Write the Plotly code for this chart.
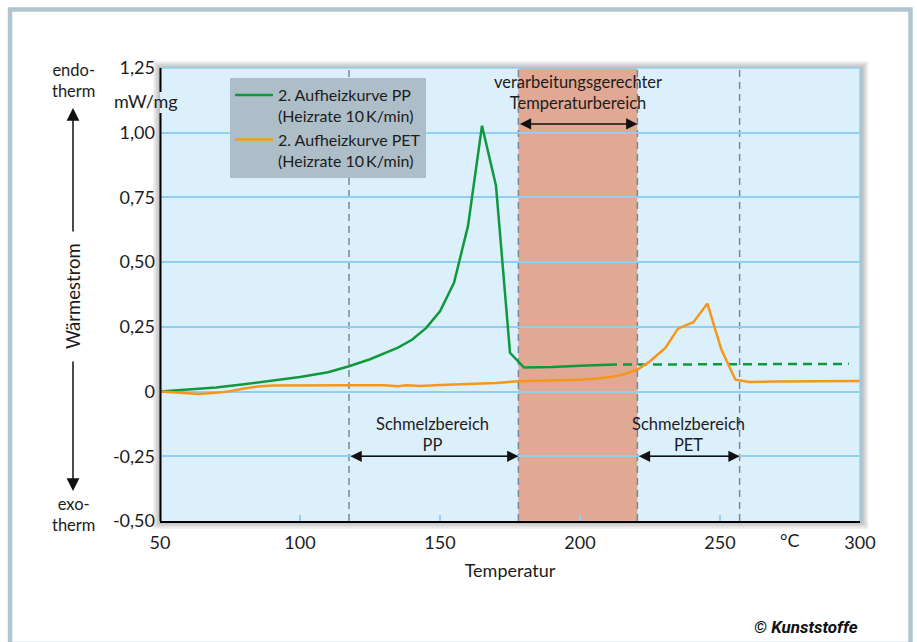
import plotly.graph_objects as go

# ---------------- data ----------------
pp_temp = [50, 60, 70, 80, 90, 100, 110, 117.5, 125, 130, 135, 140, 145, 150, 155, 160, 165, 170, 175, 180, 190, 200, 210]
pp_val = [0.0, 0.008, 0.016, 0.028, 0.042, 0.056, 0.075, 0.098, 0.125, 0.148, 0.17, 0.2, 0.245, 0.31, 0.42, 0.64, 1.027, 0.795, 0.15, 0.093, 0.095, 0.1, 0.104]
pp_ext_temp = [210, 296]
pp_ext_val = [0.104, 0.107]
pet_temp = [50, 57, 64, 70, 75, 80, 85, 90, 100, 110, 120, 130, 135, 138, 143, 150, 160, 170, 178, 190, 200, 205, 211, 216, 221,
            225, 230.5, 235, 240.5, 245.5, 250.5, 255.5, 260.5, 270, 280, 290, 300]
pet_val = [0.0, -0.004, -0.009, -0.005, 0.001, 0.012, 0.02, 0.023, 0.024, 0.024, 0.024, 0.024, 0.021, 0.024, 0.022, 0.025, 0.028,
           0.033, 0.04, 0.042, 0.046, 0.05, 0.056, 0.068, 0.088, 0.117, 0.169, 0.243, 0.268, 0.34, 0.162, 0.046, 0.037, 0.039,
           0.04, 0.039, 0.041]
y_ticks = [-0.5, -0.25, 0, 0.25, 0.5, 0.75, 1.0, 1.25]
y_labels = ["-0,50", "-0,25", "0", "0,25", "0,50", "0,75", "1,00", "1,25"]
x_ticks = [50, 100, 150, 200, 250, 300]
x_labels = ["50", "100", "150", "200", "250", "300"]
melt_pp = [117.5, 178]
process_range = [178, 220.5]
melt_pet = [220.5, 257]
arrow_level_top = 1.034
arrow_level_bottom = -0.25

GREEN = "#10993c"
ORANGE = "#f6971c"
TXT = "#1c1c1c"
FONT = "Lato, Open Sans, sans-serif"

W, H = 917, 642
L, R, T, B = 160, 57, 68, 121
PW, PH = W - L - R, H - T - B


def px(x):
    return (x - L) / PW


def py(y):
    return (H - B - y) / PH


fig = go.Figure()
fig.add_trace(go.Scatter(x=pp_temp, y=pp_val, mode="lines", line=dict(color=GREEN, width=2.5),
                         name="2. Aufheizkurve PP<br>(Heizrate 10\u2009K/min)"))
fig.add_trace(go.Scatter(x=pp_ext_temp, y=pp_ext_val, mode="lines", showlegend=False,
                         line=dict(color=GREEN, width=2.5, dash="9px,6px")))
fig.add_trace(go.Scatter(x=pet_temp, y=pet_val, mode="lines", line=dict(color=ORANGE, width=2.5),
                         name="2. Aufheizkurve PET<br>(Heizrate 10\u2009K/min)"))

shapes = []
# outer frame
shapes.append(dict(type="rect", xref="paper", yref="paper", x0=px(10), x1=px(910.5), y0=py(644), y1=py(9.5),
                   line=dict(color="#b1c4d0", width=4.5), fillcolor="rgba(0,0,0,0)", layer="below"))
# shadow around plot area
for d in [7, 5.5, 4, 2.5, 1.2]:
    shapes.append(dict(type="rect", xref="paper", yref="paper", x0=-d / PW, x1=1 + (d + 1.5) / PW,
                       y0=-(d + 1) / PH, y1=1 + d / PH, line=dict(width=0),
                       fillcolor="rgba(0,0,0,0.055)", layer="below"))
# plot background
shapes.append(dict(type="rect", xref="paper", yref="paper", x0=0, x1=1, y0=0, y1=1, line=dict(width=0),
                   fillcolor="#dcf0fc", layer="below"))
# processing band
shapes.append(dict(type="rect", xref="x", yref="paper", x0=process_range[0], x1=process_range[1], y0=0, y1=1,
                   line=dict(width=0), fillcolor="#e1a893", layer="below"))
# dashed boundaries
for xv in [melt_pp[0], melt_pp[1], process_range[1], melt_pet[1]]:
    shapes.append(dict(type="line", xref="x", yref="paper", x0=xv, x1=xv, y0=0, y1=1,
                       line=dict(color="#76899a", width=1.5, dash="7px,5px"), layer="below"))
# plot-area light blue border (top/right)
shapes.append(dict(type="line", xref="paper", yref="paper", x0=0, x1=1, y0=1, y1=1,
                   line=dict(color="#8fd0f2", width=1.5)))
shapes.append(dict(type="line", xref="paper", yref="paper", x0=1, x1=1, y0=0, y1=1,
                   line=dict(color="#8fd0f2", width=1.5)))
# black left axis line with gap for the unit
shapes.append(dict(type="line", xref="paper", yref="paper", x0=px(160.5), x1=px(160.5), y0=py(92), y1=1,
                   line=dict(color="black", width=2)))
shapes.append(dict(type="line", xref="paper", yref="paper", x0=px(160.5), x1=px(160.5), y0=0, y1=py(113),
                   line=dict(color="black", width=2)))

ann = []


def txt(x, y, s, size=16.5, xref="x", yref="y", **kw):
    ann.append(dict(x=x, y=y, xref=xref, yref=yref, text=s, showarrow=False, xanchor="center", yanchor="middle",
                    font=dict(family=FONT, size=size, color=TXT), **kw))


def harrow(x0, x1, y):
    ann.append(dict(x=x1, y=y, ax=x0, ay=y, xref="x", yref="y", axref="x", ayref="y", text="",
                    showarrow=True, arrowside="end+start", arrowhead=2, arrowsize=1.5, arrowwidth=1.5,
                    arrowcolor="#111111", standoff=0, startstandoff=0))


harrow(process_range[0], process_range[1], arrow_level_top)
harrow(melt_pp[0], melt_pp[1], arrow_level_bottom)
harrow(melt_pet[0], melt_pet[1], arrow_level_bottom)

txt(sum(process_range) / 2, 1.157, "verarbeitungsgerechter<br>Temperaturbereich")
txt(147.2, -0.164, "Schmelzbereich<br>PP")
txt(238.6, -0.164, "Schmelzbereich<br>PET")

# left side labels
txt(px(73), py(80), "endo-<br>therm", size=16.5, xref="paper", yref="paper")
txt(px(73), py(514), "exo-<br>therm", size=16.5, xref="paper", yref="paper")
txt(px(73), py(296), "Wärmestrom", size=18.5, xref="paper", yref="paper", textangle=-90)
ann.append(dict(x=px(73), y=py(108), xref="paper", yref="paper", ax=0, ay=125, text="", showarrow=True,
                arrowhead=2, arrowsize=1.7, arrowwidth=1.5, arrowcolor="#111111", standoff=0))
ann.append(dict(x=px(73), y=py(491), xref="paper", yref="paper", ax=0, ay=-131, text="", showarrow=True,
                arrowhead=2, arrowsize=1.7, arrowwidth=1.5, arrowcolor="#111111", standoff=0))
txt(px(146), py(101), "mW/mg", size=18, xref="paper", yref="paper")
txt(275, py(540), "°C", size=18, yref="paper")
ann.append(dict(x=px(860), y=py(627), xref="paper", yref="paper", xanchor="right", yanchor="middle",
                text="<b><i>© Kunststoffe</i></b>", showarrow=False,
                font=dict(family="Liberation Sans Narrow, Roboto, sans-serif", size=17, color="#111111")))

fig.update_layout(
    width=W, height=H, margin=dict(l=L, r=R, t=T, b=B),
    paper_bgcolor="white", plot_bgcolor="#dcf0fc",
    shapes=shapes, annotations=ann,
    showlegend=True,
    legend=dict(x=px(230), y=py(78), xanchor="left", yanchor="top", bgcolor="#adbec8",
                font=dict(family=FONT, size=16, color=TXT), valign="top", itemwidth=38,
                traceorder="normal", tracegroupgap=4),
    xaxis=dict(range=[50, 300], tickvals=x_ticks, ticktext=x_labels, showgrid=False, zeroline=False,
               showline=True, linecolor="black", linewidth=2, ticks="inside", tickcolor="#8fd0f2", ticklen=6,
               tickwidth=1.5, ticklabelstandoff=4,
               tickfont=dict(family=FONT, size=18, color=TXT),
               title=dict(text="Temperatur", font=dict(family=FONT, size=18, color=TXT), standoff=13)),
    yaxis=dict(range=[-0.5, 1.25], tickvals=y_ticks, ticktext=y_labels, showgrid=True, gridcolor="#8fd0f2",
               gridwidth=1.5, zeroline=False, showline=False, ticks="", ticklabelstandoff=4,
               tickfont=dict(family=FONT, size=18, color=TXT)),
)

fig.write_html("out.html", config={"displayModeBar": False},
               post_script="document.body.style.margin='0px';")
